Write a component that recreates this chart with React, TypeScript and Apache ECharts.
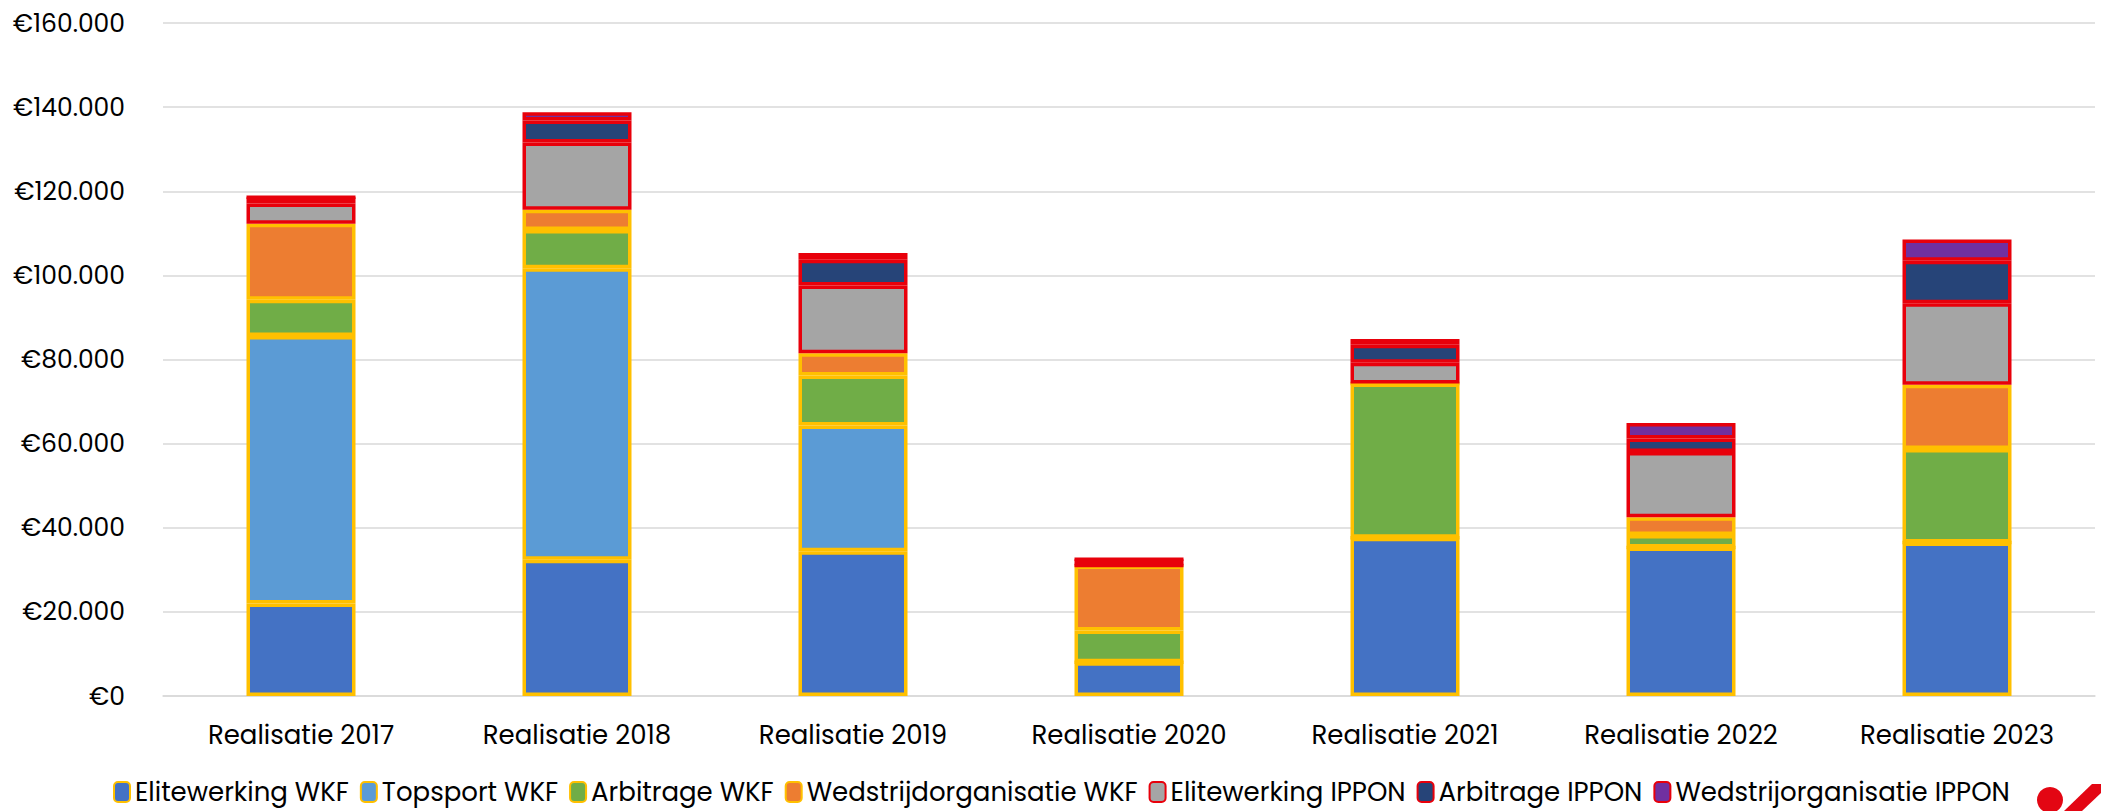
import React, { useEffect, useRef } from "react";
import * as echarts from "echarts";

const categories = [
  "Realisatie 2017",
  "Realisatie 2018",
  "Realisatie 2019",
  "Realisatie 2020",
  "Realisatie 2021",
  "Realisatie 2022",
  "Realisatie 2023",
];

const eliteWKF = [22000, 32400, 34400, 8000, 37600, 35300, 36500];
const topsportWKF = [63600, 69300, 29900, 0, 0, 0, 0];
const arbitrageWKF = [8600, 9100, 11900, 7600, 36700, 3000, 22200];
const wedstrijdWKF = [18100, 4800, 5300, 15400, 0, 4200, 15300];
const eliteIPPON = [4800, 16000, 16100, 0, 4900, 15500, 19400];
const arbitrageIPPON = [1500, 5200, 6100, 1500, 4300, 3200, 10100];
const wedstrijdIPPON = [0, 2000, 1600, 0, 1400, 3700, 5000];

const yTicks = [0, 20000, 40000, 60000, 80000, 100000, 120000, 140000, 160000];

const seriesDefs = [
  { name: "Elitewerking WKF", data: eliteWKF, color: "#4472C4", border: "#FFC000" },
  { name: "Topsport WKF", data: topsportWKF, color: "#5B9BD5", border: "#FFC000" },
  { name: "Arbitrage WKF", data: arbitrageWKF, color: "#70AD47", border: "#FFC000" },
  { name: "Wedstrijdorganisatie WKF", data: wedstrijdWKF, color: "#ED7D31", border: "#FFC000" },
  { name: "Elitewerking IPPON", data: eliteIPPON, color: "#A5A5A5", border: "#E8000B" },
  { name: "Arbitrage IPPON", data: arbitrageIPPON, color: "#264478", border: "#E8000B" },
  { name: "Wedstrijorganisatie IPPON", data: wedstrijdIPPON, color: "#7030A0", border: "#E8000B" },
];

const FONT = "Poppins, Inter, sans-serif";

function fmtEuro(v: number): string {
  const s = Math.round(v).toString().replace(/\B(?=(\d{3})+(?!\d))/g, ".");
  return "€" + s;
}

export default function App() {
  const ref = useRef<HTMLDivElement>(null);
  useEffect(() => {
    if (!ref.current) return;
    const chart = echarts.init(ref.current, undefined, { renderer: "svg" });
    chart.setOption({
      animation: false,
      backgroundColor: "#ffffff",
      textStyle: { fontFamily: FONT },
      grid: { left: 163, right: 6, top: 23, bottom: 115, containLabel: false },
      legend: {
        left: 113,
        top: 779,
        padding: 0,
        itemWidth: 16,
        itemHeight: 20,
        itemGap: 11,
        textStyle: { fontFamily: FONT, fontSize: 26, color: "#000000" },
        data: seriesDefs.map((s) => s.name),
      },
      xAxis: {
        type: "category",
        data: categories,
        axisTick: { show: false },
        axisLine: { lineStyle: { color: "#D9D9D9", width: 1.5 } },
        axisLabel: { fontFamily: FONT, fontSize: 26, color: "#000000", margin: 26 },
      },
      yAxis: {
        type: "value",
        min: yTicks[0],
        max: yTicks[yTicks.length - 1],
        interval: 20000,
        axisLine: { show: false },
        axisTick: { show: false },
        splitLine: { lineStyle: { color: "#D9D9D9", width: 1.5 } },
        axisLabel: {
          fontFamily: FONT,
          fontSize: 25,
          color: "#000000",
          margin: 38,
          formatter: (v: number) => fmtEuro(v),
        },
      },
      series: seriesDefs.map((s) => ({
        name: s.name,
        type: "bar",
        stack: "total",
        barWidth: 109,
        data: s.data,
        itemStyle: { color: s.color, borderColor: s.border, borderWidth: 3.5 },
      })),
      graphic: [
        {
          type: "circle",
          shape: { cx: 2050, cy: 800, r: 13 },
          style: { fill: "#E30613" },
          silent: true,
        },
        {
          type: "polygon",
          shape: {
            points: [
              [2064, 811],
              [2092, 784],
              [2101, 784],
              [2101, 793],
              [2082, 811],
            ],
          },
          style: { fill: "#E30613" },
          silent: true,
        },
      ],
    });
    return () => chart.dispose();
  }, []);
  return (
    <div
      ref={ref}
      style={{ position: "fixed", left: 0, top: 0, width: 2101, height: 811 }}
    />
  );
}
